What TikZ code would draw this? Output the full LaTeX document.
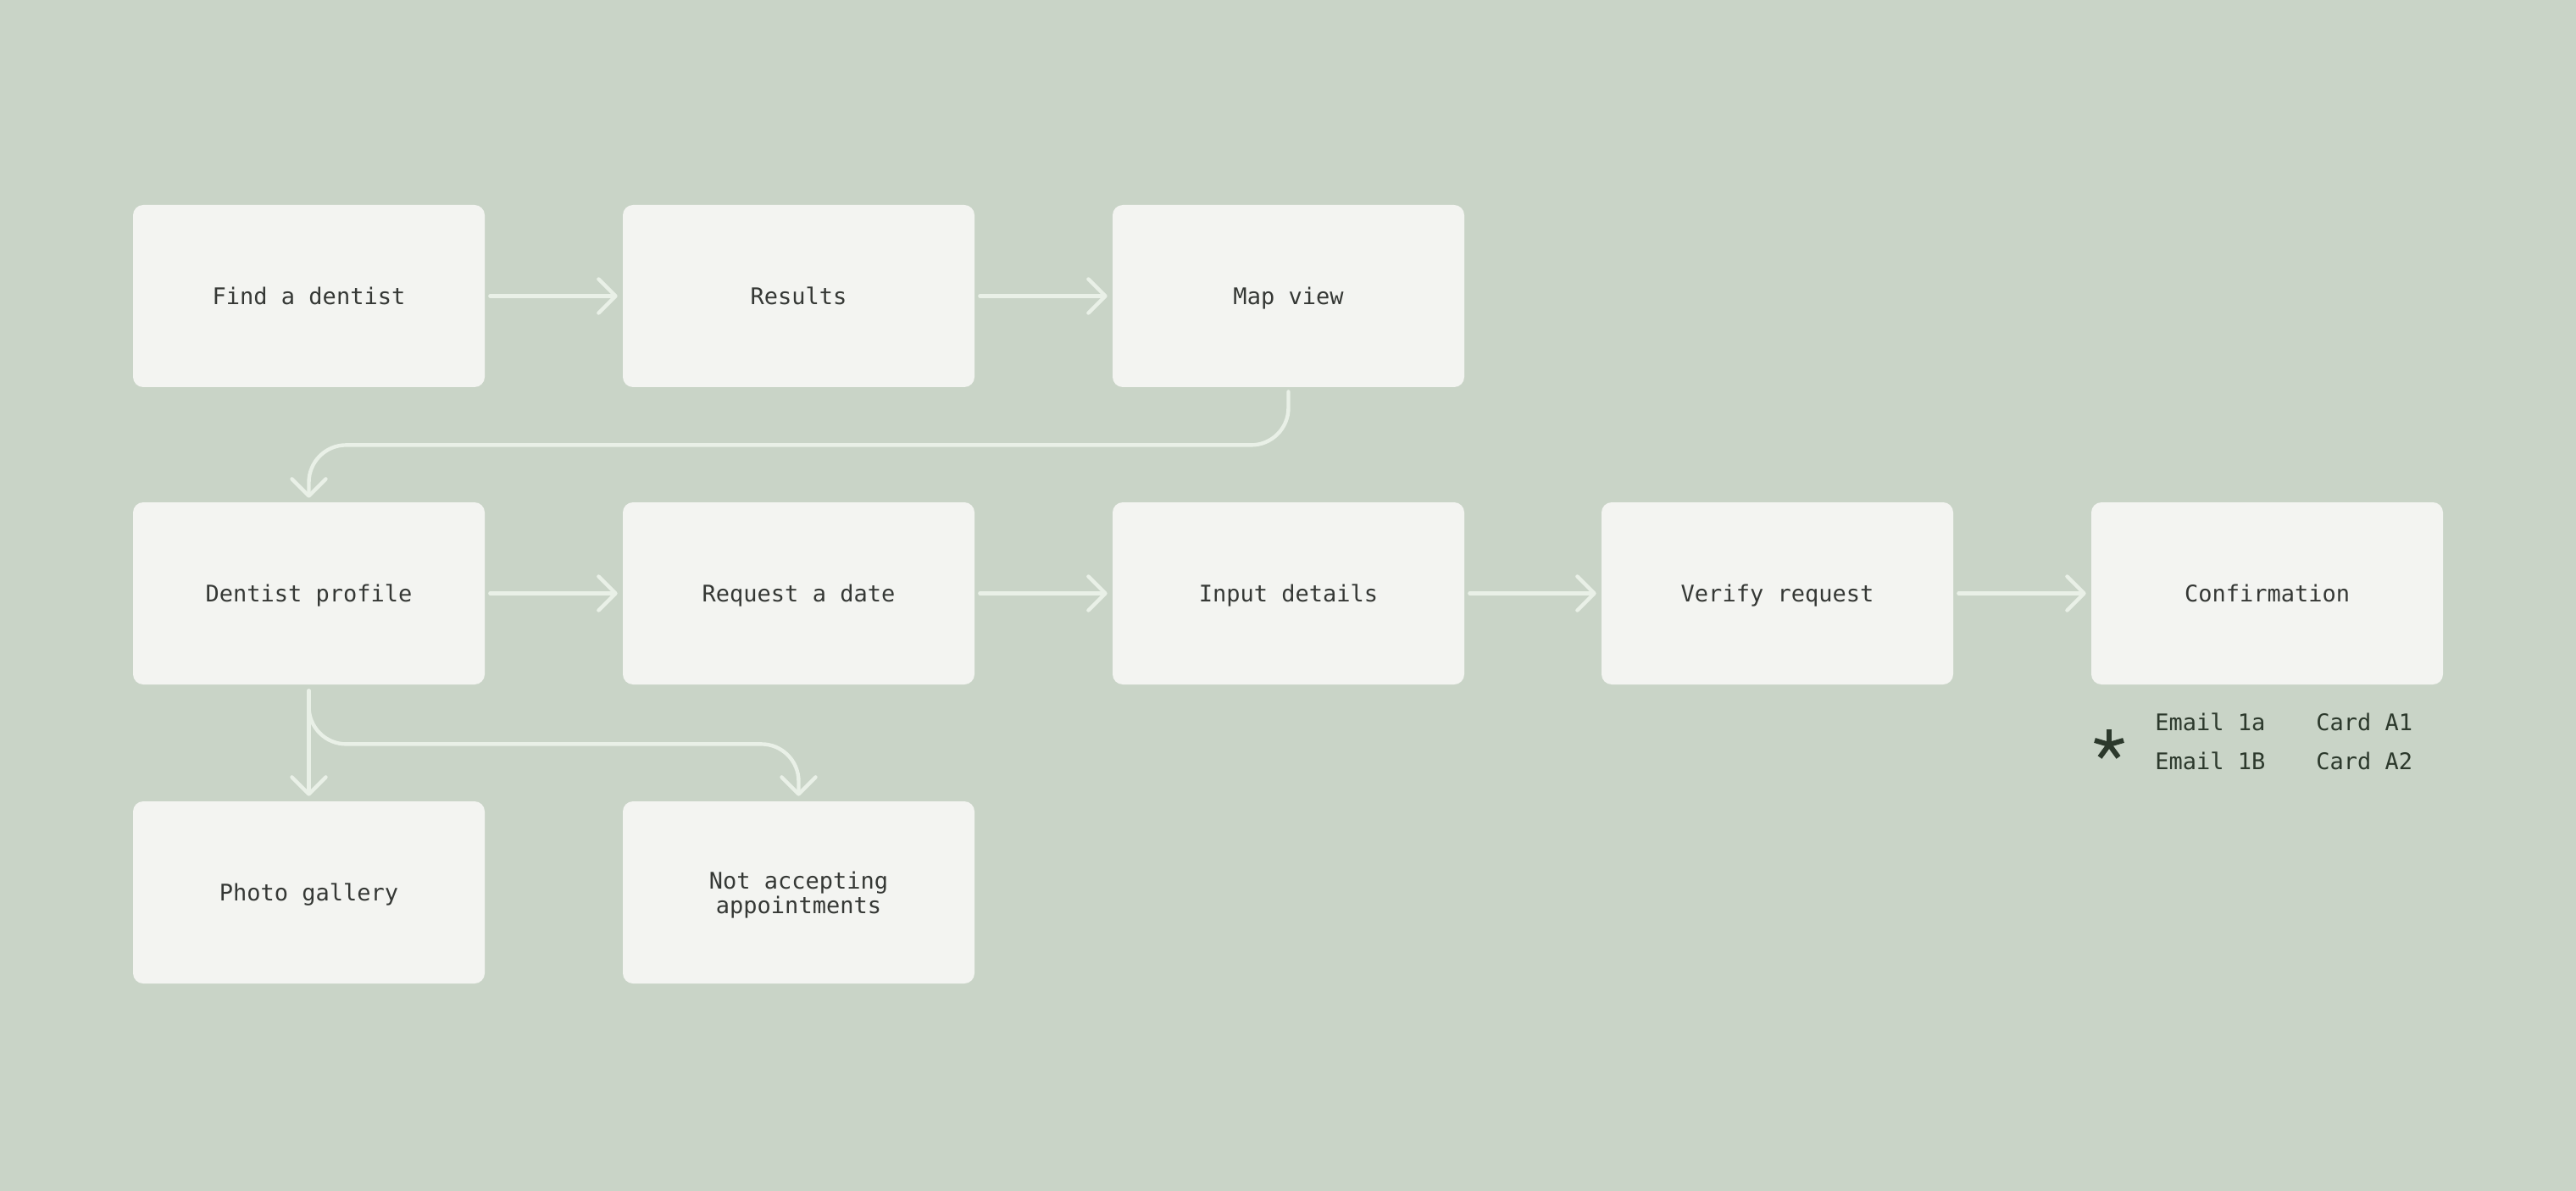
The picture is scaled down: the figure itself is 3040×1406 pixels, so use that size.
\documentclass[tikz,border=0pt]{standalone}
\usepackage{fontspec}
\setmonofont{DejaVu Sans Mono}
\usetikzlibrary{arrows.meta}
\definecolor{bg}{HTML}{C9D4C7}
\definecolor{boxfill}{HTML}{F3F4F1}
\definecolor{link}{HTML}{E9F0E7}
\definecolor{txt}{HTML}{353835}
\definecolor{note}{HTML}{2C392C}
\begin{document}
\begin{tikzpicture}[x=0.5pt,y=-0.5pt,
  basebox/.style={draw=none, fill=boxfill, rounded corners=6pt,
    minimum width=207.5pt, minimum height=107.5pt, inner sep=0pt,
    font=\ttfamily\fontsize{13.5}{13.5}\selectfont, text=txt, align=center},
  stepbox/.style={basebox, text height=10.3pt, text depth=0pt},
  notetext/.style={anchor=base west, inner sep=0pt,
    font=\ttfamily\fontsize{13.5}{13.5}\selectfont, text=note},
  flow/.style={draw=link, line width=2.2pt, line cap=round,
    -{Straight Barb[length=10pt,width=20pt,round]}},
  curvedflow/.style={flow, rounded corners=22pt},
  astline/.style={draw=note, line width=3pt},
]
\fill[bg] (0,0) rectangle (3040,1406);
\useasboundingbox (0,0) rectangle (3040,1406);

% row 1
\node[stepbox] (find)    at (364.5,349.5)  {Find a dentist};
\node[stepbox] (results) at (942.5,349.5)  {Results};
\node[stepbox] (map)     at (1520.5,349.5) {Map view};
% row 2
\node[stepbox] (profile) at (364.5,700.5)  {Dentist profile};
\node[stepbox] (request) at (942.5,700.5)  {Request a date};
\node[stepbox] (input)   at (1520.5,700.5) {Input details};
\node[stepbox] (verify)  at (2097.5,700.5) {Verify request};
\node[stepbox] (confirm) at (2675.5,700.5) {Confirmation};
% row 3
\node[stepbox] (gallery) at (364.5,1053.5) {Photo gallery};
\node[basebox] (notacc)  at (942.5,1053.5) {\raisebox{-2pt}[\height][\depth]{\begin{tabular}{@{}c@{}}Not accepting\\appointments\end{tabular}}};

% connectors
\draw[flow] ([xshift=3pt]find.east) -- ([xshift=-3pt]results.west);
\draw[flow] ([xshift=3pt]results.east) -- ([xshift=-3pt]map.west);
\draw[curvedflow] ([yshift=-2.5pt]map.south) -- ++(0,63) -| ([yshift=2.5pt]profile.north);
\draw[flow] ([xshift=3pt]profile.east) -- ([xshift=-3pt]request.west);
\draw[flow] ([xshift=3pt]request.east) -- ([xshift=-3pt]input.west);
\draw[flow] ([xshift=3pt]input.east) -- ([xshift=-3pt]verify.west);
\draw[flow] ([xshift=3pt]verify.east) -- ([xshift=-3pt]confirm.west);
\draw[flow] ([yshift=-3.5pt]profile.south) -- ([yshift=3pt]gallery.north);
\draw[curvedflow] ([yshift=-3.5pt]profile.south) -- ++(0,63) -| ([yshift=3pt]notacc.north);

% note below confirmation
\coordinate (ast) at (2489,879);
\draw[astline] (ast) -- ++(0,-18);
\draw[astline] (ast) -- ++(17,-5);
\draw[astline] (ast) -- ++(-17,-5);
\draw[astline] (ast) -- ++(11,15);
\draw[astline] (ast) -- ++(-11,15);
\node[notetext] (e1a) at (2543,862) {Email 1a};
\node[notetext] (ca1) at (2733,862) {Card A1};
\node[notetext] (e1b) at (2543,908) {Email 1B};
\node[notetext] (ca2) at (2733,908) {Card A2};
\end{tikzpicture}
\end{document}
